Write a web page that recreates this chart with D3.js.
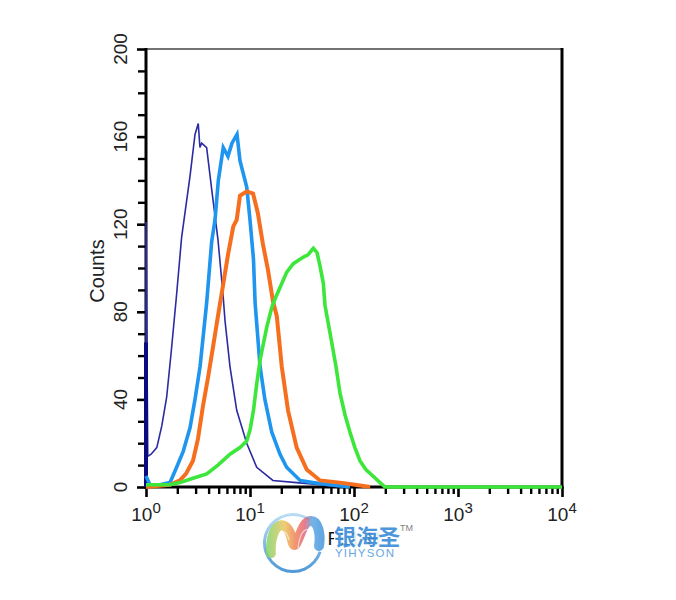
<!DOCTYPE html>
<html><head><meta charset="utf-8">
<script src="https://cdn.jsdelivr.net/npm/d3@7"></script>
<style>html,body{margin:0;padding:0;background:#fff}svg{display:block}</style>
</head><body>
<svg id="chart" width="676" height="600"></svg>
<script>
// ---- data (fluorescence intensity, counts) ----
const navyX = [1.00, 1.00, 1.04, 1.12, 1.27, 1.42, 1.58, 1.75, 1.97, 2.20, 2.65, 2.96, 3.18, 3.30, 3.43, 3.83, 4.28, 4.92, 5.50, 5.75, 6.42, 7.45, 9.30, 11.6, 16.6, 28.1, 47.1, 73.3];
const navyY = [0, 121, 14, 15, 18, 28, 41, 62, 88, 114, 142, 161, 166, 155, 157, 155, 136, 113, 88, 76, 55, 35, 20, 9, 3, 2, 1, 0];
const edgeX = [1.00, 1.00];
const edgeY = [0, 66];
const blueX = [1.00, 1.09, 1.36, 1.70, 1.97, 2.27, 2.65, 2.96, 3.31, 3.83, 4.28, 4.61, 4.96, 5.53, 6.14, 6.71, 7.50, 8.01, 9.30, 10.0, 10.8, 11.2, 12.5, 13.9, 16.2, 19.4, 22.5, 30.3, 40.3, 58.8, 91.5];
const blueY = [5, 1, 1, 2, 9, 16, 27, 40, 55, 84, 112, 122, 140, 155, 151, 157, 161, 149, 137, 122, 104, 84, 55, 40, 25, 15, 9, 3, 2, 1, 0];
const orangeX = [1.00, 1.70, 2.12, 2.42, 2.83, 3.16, 3.53, 3.95, 4.41, 4.92, 5.50, 6.14, 6.91, 7.45, 8.01, 9.30, 10.7, 11.9, 13.3, 14.9, 16.6, 18.1, 20.2, 23.2, 28.1, 35.1, 47.1, 73.3, 102, 143];
const orangeY = [0, 1, 3, 6, 12, 22, 37, 50, 64, 78, 92, 106, 119, 122, 133, 135, 134, 125, 111, 99, 85, 78, 55, 35, 18, 8, 3, 2, 1, 0];
const greenX = [1.00, 1.70, 2.12, 2.83, 3.83, 4.92, 6.42, 8.01, 9.30, 10.0, 10.8, 11.6, 12.5, 14.5, 16.2, 17.8, 19.4, 22.5, 26.1, 32.6, 36.1, 40.6, 44.1, 47.1, 50.7, 52.6, 61.1, 67.1, 73.3, 81.9, 91.5, 102, 114, 130, 152, 178, 199, 10000];
const greenY = [1, 1, 2, 4, 6, 10, 15, 18, 21, 26, 35, 47, 58, 73, 82, 87, 91, 98, 102, 105, 106, 109, 107, 101, 93, 83, 66, 55, 43, 33, 25, 18, 12, 8, 5, 2, 0, 0];

const xMajorTicks = [1, 10, 100, 1000, 10000];
const xTickExp = ["0", "1", "2", "3", "4"];
const yMajorTicks = [0, 40, 80, 120, 160, 200];
const yLabel = "Counts";
const xLabel = "FL1-H";
const brandCN = "银海圣";
const brandEN = "YIHYSON";

// ---- layout ----
const L = 146, R = 562, T = 49, B = 487;
const svg = d3.select("#chart");
const x = d3.scaleLog().domain([1, 10000]).range([L, R]);
const y = d3.scaleLinear().domain([0, 200]).range([B, T]);
const font = "'Liberation Sans', Arial, Helvetica, sans-serif";

// minor ticks
const xMinor = [];
for (let k = 0; k < 4; k++) for (let m = 2; m <= 9; m++) xMinor.push(m * Math.pow(10, k));
const yMinor = d3.range(10, 200, 10).filter(v => v % 40 !== 0);

function styleAxis(g, w) {
  g.select(".domain").remove();
  g.selectAll(".tick line").attr("stroke", "#000").attr("stroke-width", w);
  g.selectAll(".tick text").remove();
}
svg.append("g").attr("transform", `translate(0,${B})`)
  .call(d3.axisBottom(x).tickValues(xMinor).tickSize(7).tickFormat(""))
  .call(g => styleAxis(g, 2.4));
svg.append("g").attr("transform", `translate(0,${B})`)
  .call(d3.axisBottom(x).tickValues(xMajorTicks).tickSize(10).tickFormat(""))
  .call(g => styleAxis(g, 2.6));
svg.append("g").attr("transform", `translate(${L},0)`)
  .call(d3.axisLeft(y).tickValues(yMinor).tickSize(8).tickFormat(""))
  .call(g => styleAxis(g, 2.4));
svg.append("g").attr("transform", `translate(${L},0)`)
  .call(d3.axisLeft(y).tickValues(yMajorTicks).tickSize(9).tickFormat(""))
  .call(g => styleAxis(g, 2.6));

// frame
svg.append("line").attr("x1", L).attr("x2", R).attr("y1", T).attr("y2", T)
  .attr("stroke", "#444").attr("stroke-width", 1.4);
svg.append("line").attr("x1", R).attr("x2", R).attr("y1", T - 1).attr("y2", B + 1)
  .attr("stroke", "#000").attr("stroke-width", 3);
svg.append("line").attr("x1", L).attr("x2", L).attr("y1", T - 1).attr("y2", B + 1.5)
  .attr("stroke", "#000").attr("stroke-width", 3);
svg.append("line").attr("x1", L - 1.5).attr("x2", R + 1.5).attr("y1", B).attr("y2", B)
  .attr("stroke", "#000").attr("stroke-width", 3);

// x tick labels
xMajorTicks.forEach((v, i) => {
  const t = svg.append("text").attr("x", x(v)).attr("y", 521)
    .attr("text-anchor", "middle").attr("font-family", font).attr("fill", "#222");
  t.append("tspan").attr("font-size", 19).text("10");
  t.append("tspan").attr("font-size", 15).attr("dy", -8).text(xTickExp[i]);
});
// y tick labels (rotated)
yMajorTicks.forEach(v => {
  svg.append("text").attr("transform", `translate(127,${y(v)}) rotate(-90)`)
    .attr("text-anchor", "middle").attr("font-family", font).attr("font-size", 19)
    .attr("fill", "#222").text(v);
});
svg.append("text").attr("transform", `translate(104,271) rotate(-90)`)
  .attr("text-anchor", "middle").attr("font-family", font).attr("font-size", 20)
  .attr("fill", "#222").text(yLabel);
svg.append("text").attr("x", 354).attr("y", 545).attr("text-anchor", "middle")
  .attr("font-family", font).attr("font-size", 19).attr("fill", "#111").text(xLabel);

// series
const line = d3.line().x(d => x(d[0])).y(d => y(d[1])).curve(d3.curveLinear);
const zip = (a, b) => a.map((v, i) => [v, b[i]]);
const series = [
  { xs: navyX, ys: navyY, color: "#2b2ba3", w: 1.6 },
  { xs: edgeX, ys: edgeY, color: "#0b0b80", w: 4 },
  { xs: blueX, ys: blueY, color: "#1e95ee", w: 3.6 },
  { xs: orangeX, ys: orangeY, color: "#f56f1e", w: 4 },
  { xs: greenX, ys: greenY, color: "#3de63a", w: 3.6 }
];
series.forEach(s => {
  svg.append("path").datum(zip(s.xs, s.ys)).attr("d", line)
    .attr("fill", "none").attr("stroke", s.color).attr("stroke-width", s.w)
    .attr("stroke-linejoin", "miter").attr("stroke-linecap", "butt");
});

// ---- watermark ----
const defs = svg.append("defs");
const grad = defs.append("linearGradient").attr("id", "ring").attr("x1", 0).attr("y1", 0).attr("x2", 0).attr("y2", 1);
grad.append("stop").attr("offset", "0%").attr("stop-color", "#b4dcf4");
grad.append("stop").attr("offset", "100%").attr("stop-color", "#3f8fd3");
const rib = defs.append("linearGradient").attr("id", "rib").attr("gradientUnits", "userSpaceOnUse")
  .attr("x1", 268).attr("y1", 0).attr("x2", 322).attr("y2", 0);
[["0%", "#7fcf5f"], ["30%", "#e8c24f"], ["50%", "#ef7a4a"], ["68%", "#e4576e"], ["82%", "#4b9fe3"], ["100%", "#3a8fda"]]
  .forEach(([o, c]) => rib.append("stop").attr("offset", o).attr("stop-color", c));
const wm = svg.append("g").attr("opacity", 0.92);
wm.append("rect").attr("x", 334).attr("y", 522).attr("width", 70).attr("height", 38).attr("fill", "#fff");
const ring = d3.arc().innerRadius(27).outerRadius(30);
wm.append("path").attr("transform", "translate(293,543)")
  .attr("d", ring({ startAngle: Math.PI * 0.6, endAngle: Math.PI * 2.2 }))
  .attr("fill", "url(#ring)");
// ribbon "m" shape
wm.append("path").attr("d", "M271,553 C270,522 287,516 292,540 C296,558 300,522 310,521 C318,520 321,534 319,546")
  .attr("fill", "none").attr("stroke", "url(#rib)").attr("stroke-width", 10)
  .attr("stroke-linecap", "round").attr("opacity", 0.85);
wm.append("path").attr("d", "M276,553 C276,530 286,526 289,540 M298,548 C300,530 306,528 311,530")
  .attr("fill", "none").attr("stroke", "#fff").attr("stroke-width", 1.2).attr("opacity", 0.6);
wm.append("text").attr("x", 334).attr("y", 545).attr("font-family", "'Noto Sans CJK SC', sans-serif")
  .attr("font-weight", "bold").attr("font-size", 22).attr("fill", "#3d8fd8").text(brandCN);
wm.append("text").attr("x", 400).attr("y", 531).attr("font-family", font)
  .attr("font-size", 9).attr("fill", "#777").text("TM");
wm.append("text").attr("x", 335).attr("y", 557).attr("font-family", font)
  .attr("font-size", 11.5).attr("letter-spacing", 1.2).attr("fill", "#5aa2dc").text(brandEN);
</script>
</body></html>
